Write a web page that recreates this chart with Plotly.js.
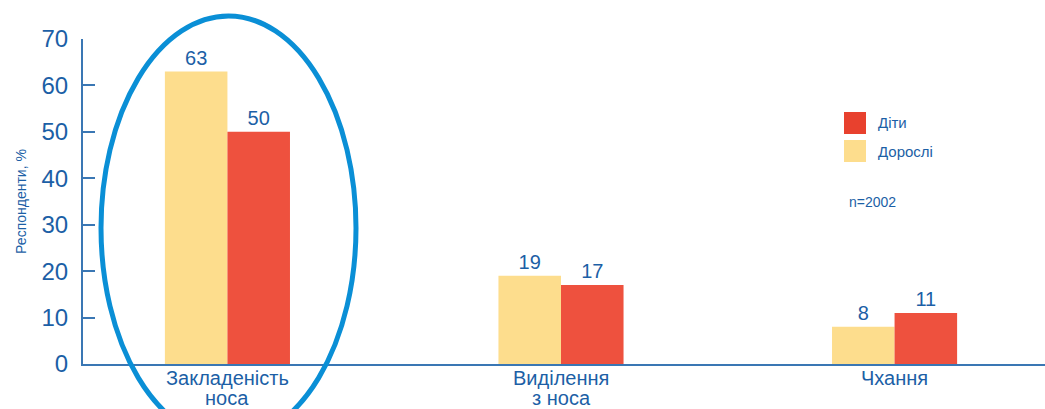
<!DOCTYPE html>
<html>
<head>
<meta charset="utf-8">
<script src="https://cdn.plot.ly/plotly-3.0.1.min.js"></script>
<style>
html,body{margin:0;padding:0;background:#fff;}
#chart{width:1045px;height:409px;}
</style>
</head>
<body>
<div id="chart"></div>
<script>
// ---- data ----
const categories = ["Закладеність<br>носа", "Виділення<br>з носа", "Чхання"];
const adults = [63, 19, 8];     // Дорослі
const children = [50, 17, 11];  // Діти
const seriesNames = ["Дорослі", "Діти"];
const yTicks = [0, 10, 20, 30, 40, 50, 60, 70];
const sampleNote = "n=2002";
const yTitle = "Респонденти, %";

// ---- style ----
const W = 1045, H = 409;
const M = {l: 83, r: 0, t: 39, b: 45};
const blue = "#1c5fa6";
const lineBlue = "#3a77b4";
const yellow = "#FDDD8D";
const red = "#EE513E";
const font = "Liberation Sans, Arial, sans-serif";

const pw = W - M.l - M.r, ph = H - M.t - M.b;
const px = x => (x - M.l) / pw;
const py = y => (H - M.b - y) / ph;

const traces = [
  {type: "bar", name: seriesNames[0], x: categories, y: adults,
   marker: {color: yellow}, text: adults.map(String), textposition: "outside",
   textfont: {family: font, size: 20, color: blue}, cliponaxis: false, showlegend: false},
  {type: "bar", name: seriesNames[1], x: categories, y: children,
   marker: {color: red}, text: children.map(String), textposition: "outside",
   textfont: {family: font, size: 20, color: blue}, cliponaxis: false, showlegend: false}
];

const shapes = [
  // highlight ellipse
  {type: "circle", xref: "paper", yref: "paper",
   x0: px(101), x1: px(356), y0: py(16), y1: py(440),
   line: {color: "#0a8fd6", width: 5}},
  // legend swatches
  {type: "rect", xref: "paper", yref: "paper", x0: px(844), x1: px(866), y0: py(112), y1: py(134),
   fillcolor: "#E8412E", line: {width: 0}},
  {type: "rect", xref: "paper", yref: "paper", x0: px(844), x1: px(866), y0: py(140), y1: py(162),
   fillcolor: yellow, line: {width: 0}}
];

const annotations = [
  {xref: "paper", yref: "paper", x: px(876), y: py(123), xanchor: "left", yanchor: "middle",
   text: seriesNames[1], showarrow: false, font: {family: font, size: 15, color: blue}},
  {xref: "paper", yref: "paper", x: px(876), y: py(151), xanchor: "left", yanchor: "middle",
   text: seriesNames[0], showarrow: false, font: {family: font, size: 15, color: blue}},
  {xref: "paper", yref: "paper", x: px(847), y: py(202), xanchor: "left", yanchor: "middle",
   text: sampleNote, showarrow: false, font: {family: font, size: 14, color: blue}}
];

// category labels, one annotation per line for tight line spacing
const lineY = [378, 398];
categories.forEach(c => {
  c.split("<br>").forEach((ln, i) => {
    annotations.push({xref: "x", yref: "paper", x: c, y: py(lineY[i]),
      xanchor: "center", yanchor: "middle", text: ln, showarrow: false,
      font: {family: font, size: 20, color: blue}});
  });
});

const layout = {
  width: W, height: H,
  margin: M,
  paper_bgcolor: "#fff", plot_bgcolor: "#fff",
  barmode: "group", bargap: 0.625, bargroupgap: 0,
  showlegend: false,
  font: {family: font, color: blue},
  xaxis: {
    type: "category", range: [-0.433, 2.451],
    showline: true, linecolor: lineBlue, linewidth: 2,
    ticks: "", showgrid: false, zeroline: false, showticklabels: false
  },
  yaxis: {
    range: [0, 70], tickvals: yTicks, ticktext: yTicks.map(String),
    showline: true, linecolor: lineBlue, linewidth: 2,
    ticks: "inside", ticklen: 12, tickwidth: 2, tickcolor: lineBlue,
    showgrid: false, zeroline: false,
    tickfont: {family: font, size: 24, color: blue},
    ticklabelstandoff: 8,
    title: {text: yTitle, font: {family: font, size: 14, color: blue}, standoff: 12}
  },
  shapes: shapes,
  annotations: annotations
};

Plotly.newPlot("chart", traces, layout, {displayModeBar: false, staticPlot: true});
</script>
</body>
</html>
